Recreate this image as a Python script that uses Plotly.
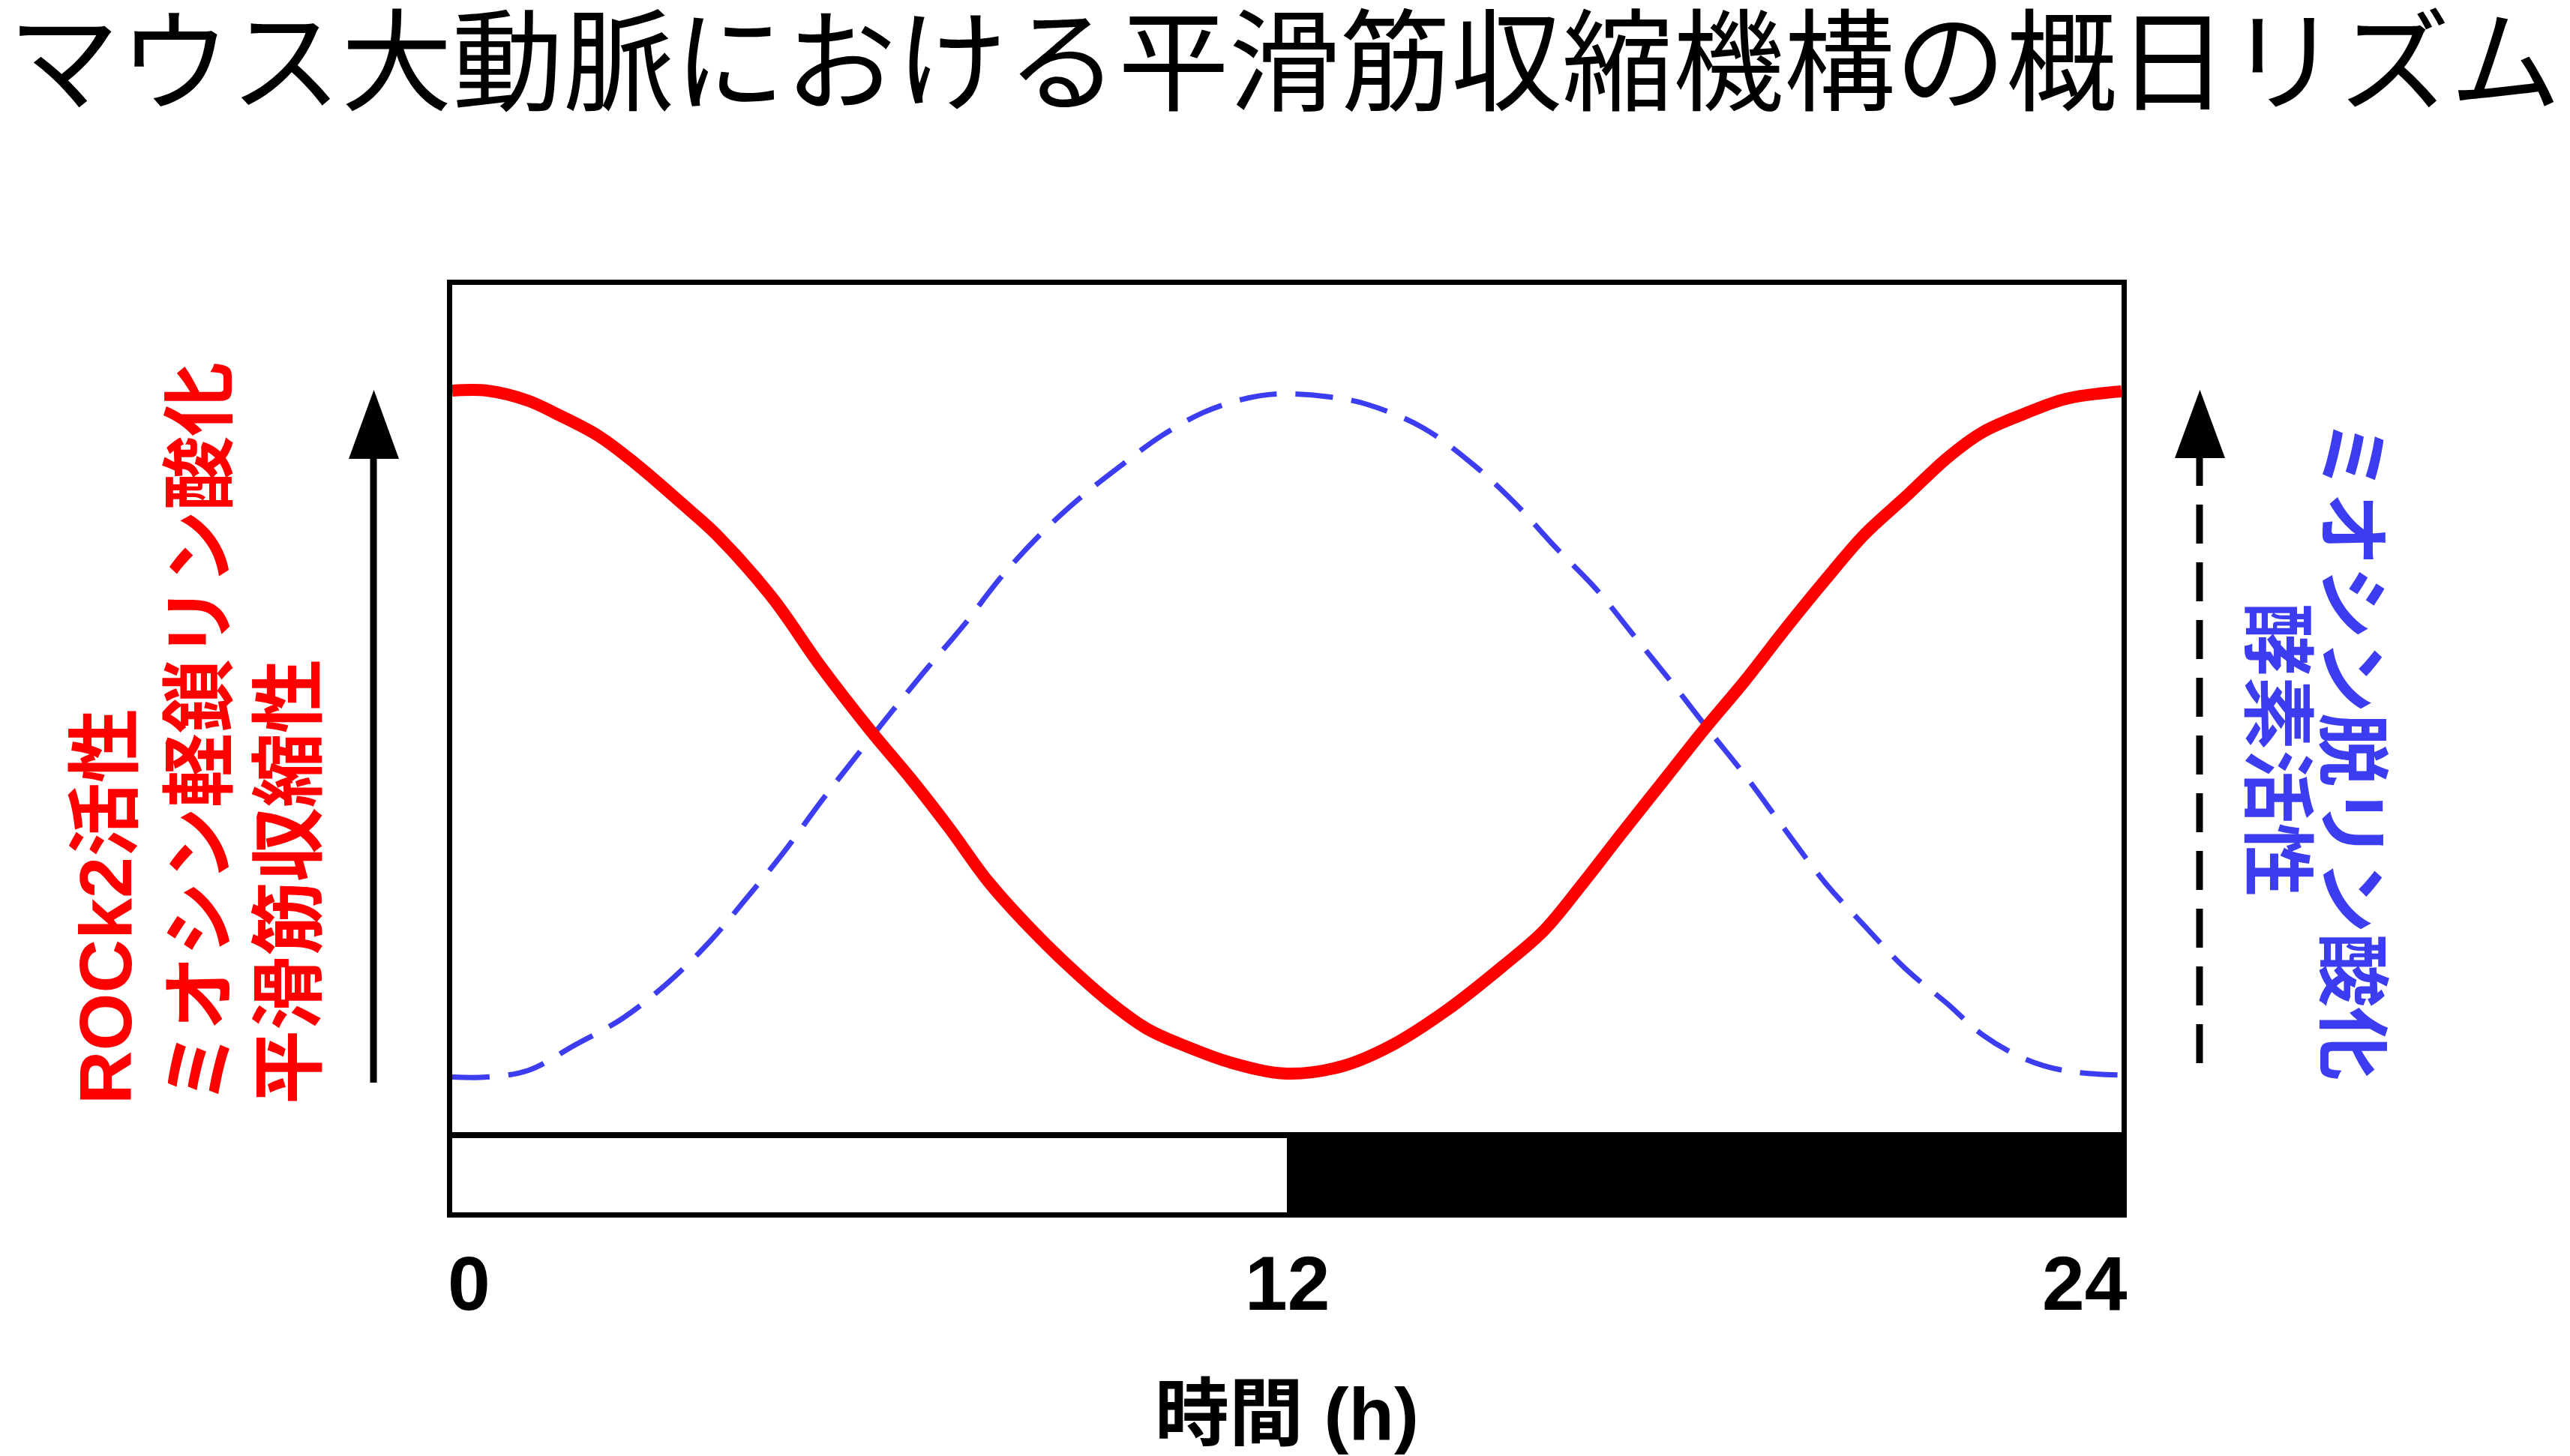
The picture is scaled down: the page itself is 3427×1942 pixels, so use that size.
import plotly.graph_objects as go

# ---------------- data ----------------
title_text = "マウス大動脈における平滑筋収縮機構の概日リズム"
x_title_text = "時間 (h)"
left_labels = ["ROCk2活性", "ミオシン軽鎖リン酸化", "平滑筋収縮性"]
right_labels = ["ミオシン脱リン酸化", "酵素活性"]

# red curve: ROCK2 activity / MLC phosphorylation / contractility (relative level)
red_hours = [0, 0.5, 1.1, 1.5, 2.1, 2.65, 3.4, 3.8, 4.6, 5.3, 6.0, 6.6, 7.15, 7.7,
             8.3, 8.9, 9.45, 10.0, 10.6, 11.2, 12.0, 12.8, 13.5, 14.3, 15.1, 15.7,
             16.25, 16.8, 17.4, 18.0, 18.6, 19.15, 19.75, 20.3, 20.9, 21.5, 22.0,
             22.6, 23.2, 24.0]
red_level = [1.000, 1.000, 0.985, 0.966, 0.934, 0.892, 0.826, 0.789, 0.697, 0.596,
             0.504, 0.431, 0.359, 0.282, 0.214, 0.154, 0.105, 0.065, 0.038, 0.016,
             0.000, 0.011, 0.041, 0.093, 0.157, 0.210, 0.278, 0.350, 0.427, 0.504,
             0.577, 0.649, 0.724, 0.789, 0.845, 0.902, 0.939, 0.966, 0.988, 0.999]

# blue curve: myosin phosphatase activity (relative level)
blue_hours = [0, 0.5, 1.1, 1.75, 2.45, 3.1, 3.7, 4.2, 4.75, 5.3, 5.85, 6.75, 7.35,
              7.9, 8.5, 9.05, 9.65, 10.2, 10.8, 11.35, 11.85, 12.6, 13.15, 13.95,
              14.7, 15.3, 15.85, 16.45, 17.0, 17.6, 18.05, 18.6, 19.15, 19.75, 20.3,
              20.9, 21.5, 22.0, 22.6, 23.2, 24.0]
blue_level = [-0.005, -0.005, 0.005, 0.041, 0.081, 0.133, 0.193, 0.253, 0.322, 0.398,
              0.470, 0.584, 0.656, 0.728, 0.794, 0.845, 0.893, 0.934, 0.968, 0.987,
              0.995, 0.991, 0.980, 0.946, 0.890, 0.833, 0.772, 0.709, 0.640, 0.564,
              0.505, 0.435, 0.359, 0.278, 0.217, 0.153, 0.102, 0.057, 0.022, 0.004,
              -0.002]

# light / dark phases
phase_names = ["明期", "暗期"]
phase_start = [0, 12]
phase_length = [12, 12]

tick_vals = [0, 12, 24]
tick_text = ["0", "12", "24"]

# ---------------- style ----------------
W, H = 3427, 1942
RED = "#ff0000"
BLUE = "#3c3cf0"
FONT = "Liberation Sans, Arial, Noto Sans CJK JP, sans-serif"
TITLE_FONT = "Liberation Sans, Noto Sans CJK JP, sans-serif"


def fx(px):
    return px / W


def fy(py):
    return 1 - py / H


fig = go.Figure()

fig.add_trace(go.Scatter(
    x=blue_hours, y=blue_level, mode="lines",
    line=dict(color=BLUE, width=7, dash="50px,25px", shape="spline", smoothing=1),
    xaxis="x", yaxis="y", hoverinfo="skip"))
fig.add_trace(go.Scatter(
    x=red_hours, y=red_level, mode="lines",
    line=dict(color=RED, width=16, shape="spline", smoothing=1),
    xaxis="x", yaxis="y", hoverinfo="skip"))

fig.add_trace(go.Bar(
    x=phase_length, base=phase_start, y=[0] * len(phase_start), orientation="h",
    width=1, text=phase_names, textposition="none",
    marker=dict(color=["white", "black"], line=dict(width=0)),
    xaxis="x2", yaxis="y2", hoverinfo="skip"))

xdom = [fx(603), fx(2829)]
axis_common = dict(showline=True, linewidth=7, linecolor="black", mirror=True,
                   showgrid=False, zeroline=False, showticklabels=False, ticks="")

fig.update_layout(
    width=W, height=H,
    margin=dict(l=0, r=0, t=0, b=0),
    paper_bgcolor="white", plot_bgcolor="white",
    showlegend=False, hovermode=False, bargap=0,
    xaxis=dict(domain=xdom, range=[0, 24], anchor="y", **axis_common),
    yaxis=dict(domain=[fy(1510), fy(380)], range=[-0.0856, 1.1548], anchor="x", **axis_common),
    xaxis2=dict(domain=xdom, range=[0, 24], anchor="y2", **axis_common),
    yaxis2=dict(domain=[fy(1617), fy(1518)], range=[-0.5, 0.5], anchor="x2", **axis_common),
)

ann = []
# title (box kept inside the page)
ann.append(dict(text=title_text, x=fx(1713), y=1, xref="paper", yref="paper",
                xanchor="center", yanchor="top", showarrow=False,
                font=dict(family=TITLE_FONT, size=148, color="black")))
# tick labels
for i, (v, t) in enumerate(zip(tick_vals, tick_text)):
    if i == 0:
        xa, sh = "left", -8
    elif i == len(tick_vals) - 1:
        xa, sh = "right", 10
    else:
        xa, sh = "center", 0
    ann.append(dict(text=t, x=v, xref="x", y=fy(1712), yref="paper",
                    xanchor=xa, yanchor="middle", xshift=sh, showarrow=False,
                    font=dict(family=FONT, size=102, color="black", weight=700)))
# x title
ann.append(dict(text=x_title_text, x=12, xref="x", y=fy(1885), yref="paper",
                xanchor="center", yanchor="middle", showarrow=False,
                font=dict(family=FONT, size=99, color="black", weight=700)))
# left labels (rotated, reading upward)
for lab, cx in zip(left_labels, [140, 266, 385]):
    ann.append(dict(text=lab, x=fx(cx), y=fy(1475), xref="paper", yref="paper",
                    xanchor="center", yanchor="bottom", textangle=-90, showarrow=False,
                    font=dict(family=FONT, size=99, color=RED, weight=700)))
# right labels (rotated, reading downward)
for lab, cx in zip(right_labels, [3136, 3036]):
    ann.append(dict(text=lab, x=fx(cx), y=fy(1000), xref="paper", yref="paper",
                    xanchor="center", yanchor="middle", textangle=90, showarrow=False,
                    font=dict(family=FONT, size=98, color=BLUE, weight=700)))
fig.update_layout(annotations=ann)

# arrows
shapes = []
# left solid arrow
shapes.append(dict(type="line", xref="paper", yref="paper",
                   x0=fx(498), x1=fx(498), y0=fy(1444), y1=fy(605),
                   line=dict(color="black", width=9)))
shapes.append(dict(type="path", xref="paper", yref="paper",
                   path=f"M {fx(465)},{fy(612)} L {fx(498.5)},{fy(520)} L {fx(532)},{fy(612)} Z",
                   fillcolor="black", line=dict(color="black", width=0)))
# right dashed arrow
shapes.append(dict(type="line", xref="paper", yref="paper",
                   x0=fx(2933), x1=fx(2933), y0=fy(596), y1=fy(1441),
                   line=dict(color="black", width=9, dash="52px,25px")))
shapes.append(dict(type="path", xref="paper", yref="paper",
                   path=f"M {fx(2900)},{fy(611)} L {fx(2933.5)},{fy(520)} L {fx(2967)},{fy(611)} Z",
                   fillcolor="black", line=dict(color="black", width=0)))
fig.update_layout(shapes=shapes)

fig.write_html("out.html", config={"displayModeBar": False},
               post_script="document.body.style.margin='0';document.body.style.overflow='hidden';")
